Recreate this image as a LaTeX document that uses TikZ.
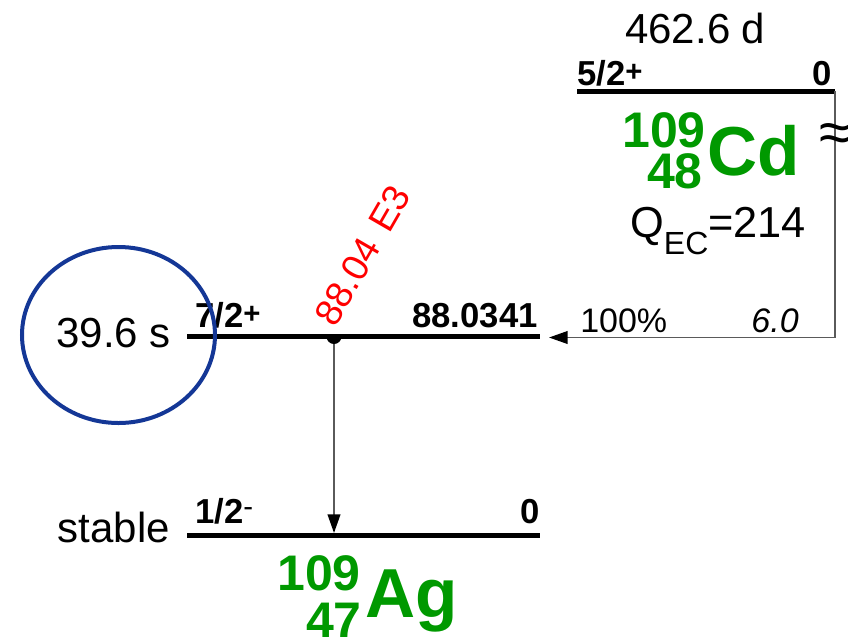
\documentclass[tikz,border=0pt]{standalone}
\usepackage{fontspec}
\setmainfont{Liberation Sans}
\usetikzlibrary{arrows.meta}
\newcommand{\fsz}[1]{\fontsize{#1}{#1}\selectfont}
\definecolor{nucgreen}{RGB}{0,153,0}
\definecolor{ringblue}{RGB}{20,55,150}
\definecolor{transgrey}{RGB}{90,90,90}
\tikzset{
  level/.style={line width=3.75pt, line cap=butt},
  trans/.style={draw=transgrey, line width=1.4pt,
    -{Triangle[length=14pt,width=9.5pt,color=black]}},
  feed/.style={draw=transgrey, line width=1.4pt},
  lbl/.style={font=\bfseries\fsz{26}, inner sep=0pt},
  big/.style={font=\fsz{31.5}, inner sep=0pt},
  small/.style={font=\fsz{25.5}, inner sep=0pt},
  elem/.style={text=nucgreen, font=\bfseries\fsz{52}, inner sep=0pt},
  massno/.style={text=nucgreen, font=\bfseries\fsz{37.5}, inner sep=0pt},
  gamma/.style={text=red, font=\fsz{28}, inner sep=0pt, rotate=60, anchor=base west},
  ring/.style={draw=ringblue, line width=3pt}
}
\begin{document}
\begin{tikzpicture}[x=0.75pt, y=-0.75pt]
\useasboundingbox (0,0) rectangle (848,640);

% --- parent 109Cd ---
\coordinate (cdL) at (577,91);
\coordinate (cdR) at (835,91);
\draw[level] (cdL) -- (cdR);
\node[big, anchor=base west] (cdhl) at (625,43) {462.6 d};
\node[lbl, anchor=base west] (cdjp) at (577,85) {5/2\raisebox{3pt}{\fsz{22}+}};
\node[lbl, anchor=base east] (cden) at (832,85) {0};
\node[elem, anchor=base west] (cdsym) at (707,175) {Cd};
\node[massno, anchor=base east] (cdA) at (706,147) {109};
\node[massno, anchor=base east] (cdZ) at (703,188) {48};
\node[anchor=base west, inner sep=0pt, font=\fsz{32.5}] (qec) at (630,237)
  {Q\raisebox{-12.75pt}{\fsz{24}EC}=214};

% --- 109Ag excited level ---
\coordinate (exL) at (187,336.5);
\coordinate (exR) at (540,336.5);
\draw[level] (exL) -- (exR);
\node[lbl, anchor=base west] (exjp) at (195,327) {7/2\raisebox{3pt}{\fsz{22}+}};
\node[lbl, anchor=base east] (exen) at (538,327) {88.0341};
\node[big, anchor=base east] (exhl) at (171,347) {39.6 s};

% --- 109Ag ground level ---
\coordinate (gsL) at (187,535);
\coordinate (gsR) at (540,535);
\draw[level] (gsL) -- (gsR);
\node[lbl, anchor=base west] (gsjp) at (195,523) {1/2\raisebox{5pt}{\mdseries\fsz{22}-}};
\node[lbl, anchor=base east] (gsen) at (540,523) {0};
\node[big, anchor=base east] (gshl) at (170,542) {stable};
\node[elem, anchor=base west] (agsym) at (365,617) {Ag};
\node[massno, anchor=base east] (agA) at (361,590) {109};
\node[massno, anchor=base east] (agZ) at (362,637) {47};

% --- EC feeding ---
\coordinate (ecEnd) at (549,337.5);
\draw[feed] (cdR) -- (835,337.5);
\draw[trans] (835,337.5) -- (ecEnd);
\node[small, anchor=base west] (ecI) at (580,332) {100\%};
\node[small, anchor=base east, font=\itshape\fsz{25.5}] (eclogft) at (799,332) {6.0};
\node[anchor=base west, inner sep=0pt, font=\fsz{44}] (brk) at (819,152) {≈};

% --- gamma transition ---
\coordinate (tA) at (334,336.5);
\coordinate (tB) at (334,533);
\draw[trans] (tA) -- (tB);
\fill (tA) ++(7.5,0) arc[start angle=0, end angle=180, radius=7.5] -- cycle;
\node[gamma] (glbl) at (335,329) {88.04\hspace{0.4em}E3};

% --- highlight ring ---
\draw[ring] (118.5,335) ellipse [x radius=96.5, y radius=88];
\end{tikzpicture}
\end{document}
